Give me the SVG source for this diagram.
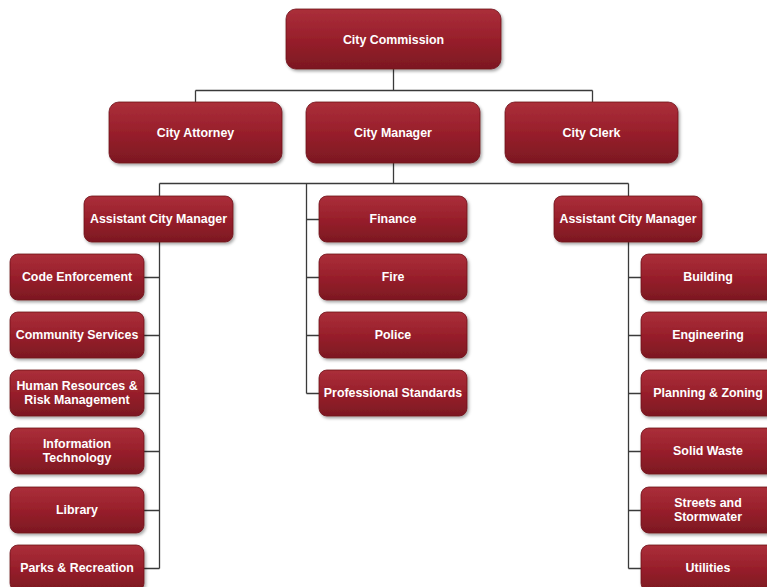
<svg xmlns="http://www.w3.org/2000/svg" width="767" height="587" viewBox="0 0 767 587">
<defs>
<linearGradient id="g" x1="0" y1="0" x2="0" y2="1">
<stop offset="0" stop-color="#ab2f3a"/>
<stop offset="0.5" stop-color="#981f2b"/>
<stop offset="1" stop-color="#7c1822"/>
</linearGradient>
<filter id="sh" x="-10%" y="-10%" width="130%" height="140%">
<feDropShadow dx="1.5" dy="2" stdDeviation="1.5" flood-color="#000" flood-opacity="0.35"/>
</filter>
</defs>
<style>
.b{fill:url(#g);stroke:#6e1219;stroke-width:0.8;filter:url(#sh)}
.t{fill:#fff;font-family:"Liberation Sans",Arial,sans-serif;font-weight:bold;font-size:12.4px;text-anchor:middle;dominant-baseline:central}
.c{stroke:#3a3a3a;stroke-width:1.3;fill:none}
</style>
<rect width="767" height="587" fill="#fff"/>
<g id="connectors">
<path class="c" d="M393.5 69V90.5M195.5 90.5H592.5M195.5 90.5V102M592.5 90.5V102"/>
<path class="c" d="M393.5 163V183.5M159.5 183.5H628.5M159.5 183.5V568.5M306.5 183.5V393.5M628.5 183.5V568.5"/>
<path class="c" d="M144 277.5H159.5M144 335.5H159.5M144 393.5H159.5M144 451.5H159.5M144 510.5H159.5M144 568.5H159.5"/>
<path class="c" d="M306.5 219.5H319M306.5 277.5H319M306.5 335.5H319M306.5 393.5H319"/>
<path class="c" d="M628.5 277.5H641M628.5 335.5H641M628.5 393.5H641M628.5 451.5H641M628.5 510.5H641M628.5 568.5H641"/>
</g>
<g id="city-commission"><rect class="b" x="286" y="9" width="215" height="60" rx="10"/><text class="t" x="393.5" y="39.5">City Commission</text></g>
<g id="city-attorney"><rect class="b" x="109" y="102" width="173" height="61" rx="10"/><text class="t" x="195.5" y="132.5">City Attorney</text></g>
<g id="city-manager"><rect class="b" x="306" y="102" width="174" height="61" rx="10"/><text class="t" x="393" y="132.5">City Manager</text></g>
<g id="city-clerk"><rect class="b" x="505" y="102" width="173" height="61" rx="10"/><text class="t" x="591.5" y="132.5">City Clerk</text></g>
<g id="acm-left"><rect class="b" x="84" y="196" width="149" height="46" rx="8"/><text class="t" x="158.5" y="219">Assistant City Manager</text></g>
<g id="finance"><rect class="b" x="319" y="196" width="148" height="46" rx="8"/><text class="t" x="393" y="219">Finance</text></g>
<g id="acm-right"><rect class="b" x="554" y="196" width="148" height="46" rx="8"/><text class="t" x="628" y="219">Assistant City Manager</text></g>
<g id="fire"><rect class="b" x="319" y="254" width="148" height="46" rx="8"/><text class="t" x="393" y="277">Fire</text></g>
<g id="police"><rect class="b" x="319" y="312" width="148" height="46" rx="8"/><text class="t" x="393" y="335">Police</text></g>
<g id="professional-standards"><rect class="b" x="319" y="370" width="148" height="46" rx="8"/><text class="t" x="393" y="393">Professional Standards</text></g>
<g id="code-enforcement"><rect class="b" x="10" y="254" width="134" height="46" rx="8"/><text class="t" x="77" y="277">Code Enforcement</text></g>
<g id="community-services"><rect class="b" x="10" y="312" width="134" height="46" rx="8"/><text class="t" x="77" y="335">Community Services</text></g>
<g id="human-resources"><rect class="b" x="10" y="370" width="134" height="46" rx="8"/><text class="t" x="77" y="386">Human Resources &amp;</text><text class="t" x="77" y="400">Risk Management</text></g>
<g id="information-technology"><rect class="b" x="10" y="428" width="134" height="46" rx="8"/><text class="t" x="77" y="444">Information</text><text class="t" x="77" y="458">Technology</text></g>
<g id="library"><rect class="b" x="10" y="487" width="134" height="46" rx="8"/><text class="t" x="77" y="510">Library</text></g>
<g id="parks-recreation"><rect class="b" x="10" y="545" width="134" height="46" rx="8"/><text class="t" x="77" y="568">Parks &amp; Recreation</text></g>
<g id="building"><rect class="b" x="641" y="254" width="134" height="46" rx="8"/><text class="t" x="708" y="277">Building</text></g>
<g id="engineering"><rect class="b" x="641" y="312" width="134" height="46" rx="8"/><text class="t" x="708" y="335">Engineering</text></g>
<g id="planning-zoning"><rect class="b" x="641" y="370" width="134" height="46" rx="8"/><text class="t" x="708" y="393">Planning &amp; Zoning</text></g>
<g id="solid-waste"><rect class="b" x="641" y="428" width="134" height="46" rx="8"/><text class="t" x="708" y="451">Solid Waste</text></g>
<g id="streets-stormwater"><rect class="b" x="641" y="487" width="134" height="46" rx="8"/><text class="t" x="708" y="503">Streets and</text><text class="t" x="708" y="517">Stormwater</text></g>
<g id="utilities"><rect class="b" x="641" y="545" width="134" height="46" rx="8"/><text class="t" x="708" y="568">Utilities</text></g>
</svg>
